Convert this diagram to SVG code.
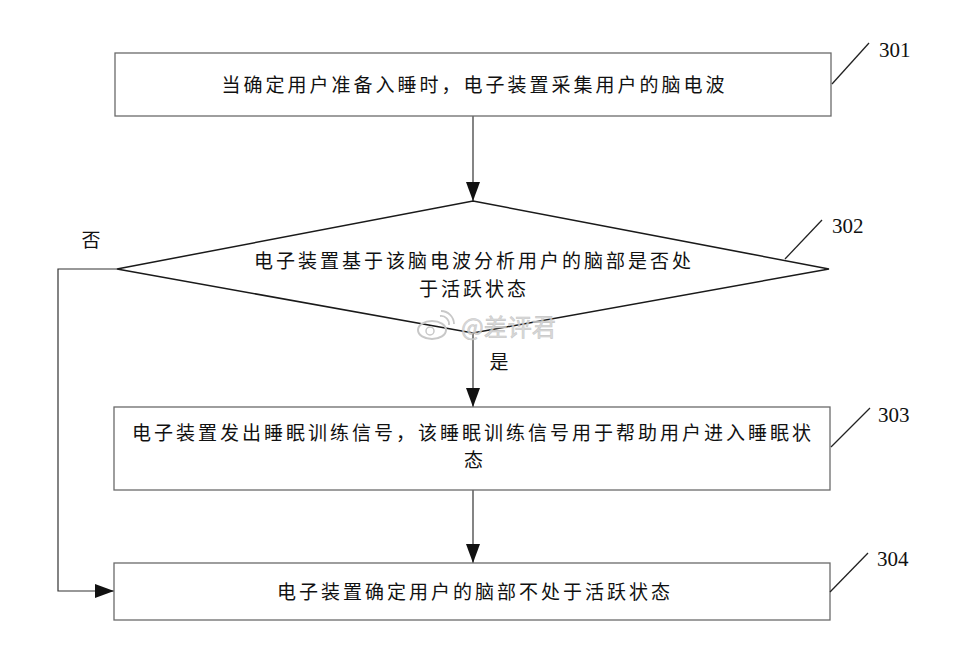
<svg xmlns="http://www.w3.org/2000/svg" width="978" height="655" viewBox="0 0 978 655">
<defs>
<style>
.box{fill:#fff;stroke:#6a6a6a;stroke-width:1.3}
.dia{fill:#fff;stroke:#1a1a1a;stroke-width:1.5}
.t{font-family:"Noto Sans CJK SC","Noto Sans CJK TC",sans-serif;font-size:19px;fill:#111;letter-spacing:3px}
.c{text-anchor:middle}
.num{font-family:"Liberation Serif",serif;font-size:21px;fill:#111}
.lead{stroke:#222;stroke-width:1.3;fill:none}
.conn{stroke:#333;stroke-width:1.2;fill:none}
.wm{font-family:"Noto Sans CJK SC",sans-serif;font-size:24px;fill:#d4d4d4;stroke:#bdbdbd;stroke-width:0.6;opacity:0.85}
</style>
<marker id="ah" markerWidth="19" markerHeight="14" refX="19" refY="7" viewBox="0 0 19 14" orient="auto" markerUnits="userSpaceOnUse">
<path d="M0,0 L19,7 L0,14 Z" fill="#111"/>
</marker>
</defs>
<rect width="978" height="655" fill="#fff"/>

<g id="connectors">
<line class="conn" x1="473" y1="116" x2="473" y2="201" marker-end="url(#ah)"/>
<line class="conn" x1="473" y1="333" x2="473" y2="407" marker-end="url(#ah)"/>
<line class="conn" x1="473" y1="490" x2="473" y2="563" marker-end="url(#ah)"/>
<polyline class="conn" points="117,269 58,269 58,591 114,591" marker-end="url(#ah)"/>
<text class="t" x="91" y="247" text-anchor="middle" style="letter-spacing:0">否</text>
<text class="t" x="499" y="369" text-anchor="middle" style="letter-spacing:0">是</text>
</g>

<g id="node301">
<rect class="box" x="115" y="53" width="716" height="63"/>
<text class="t c" x="474.5" y="92">当确定用户准备入睡时，电子装置采集用户的脑电波</text>
<line class="lead" x1="832" y1="84" x2="869" y2="43"/>
<text class="num" x="879" y="57">301</text>
</g>

<g id="node302">
<polygon class="dia" points="473,201 829,269 473,333 117,269"/>
<text class="t c" x="474" y="268">电子装置基于该脑电波分析用户的脑部是否处</text>
<text class="t c" x="474" y="296">于活跃状态</text>
<line class="lead" x1="785" y1="259" x2="822" y2="220"/>
<text class="num" x="832" y="233">302</text>
</g>

<g id="watermark">
<ellipse cx="432" cy="330" rx="14" ry="9" fill="none" stroke="#c8c8c8" stroke-width="2"/>
<circle cx="430" cy="331" r="4" fill="none" stroke="#c8c8c8" stroke-width="1.5"/>
<path d="M440,316 a8,8 0 0 1 9,9 M441,311 a13,13 0 0 1 13,13" fill="none" stroke="#c8c8c8" stroke-width="1.8"/>
<text class="wm" x="461" y="336">@差评君</text>
</g>

<g id="node303">
<rect class="box" x="114" y="407" width="716" height="83"/>
<text class="t" x="132" y="440">电子装置发出睡眠训练信号，该睡眠训练信号用于帮助用户进入睡眠状</text>
<text class="t c" x="475" y="467">态</text>
<line class="lead" x1="831" y1="447" x2="870" y2="408"/>
<text class="num" x="878" y="422">303</text>
</g>

<g id="node304">
<rect class="box" x="114" y="563" width="716" height="57"/>
<text class="t c" x="475" y="599">电子装置确定用户的脑部不处于活跃状态</text>
<line class="lead" x1="830" y1="592" x2="868" y2="553"/>
<text class="num" x="877" y="566">304</text>
</g>
</svg>
